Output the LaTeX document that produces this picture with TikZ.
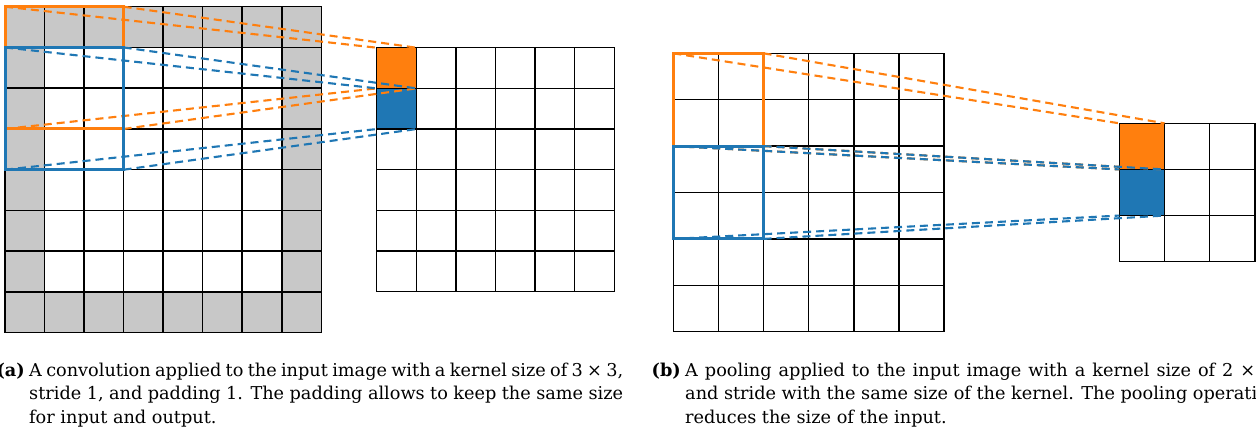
\documentclass[tikz,border=0pt]{standalone}
\usepackage{fontspec}
\setmainfont{DejaVu Serif}
\definecolor{torange}{HTML}{FF7F0E}
\definecolor{tblue}{HTML}{1F77B4}
\definecolor{padgray}{RGB}{200,200,200}
\begin{document}
\begin{tikzpicture}[x=1pt,y=-1pt,
  gridline/.style={black, line width=1.5pt, line cap=rect},
  kbox/.style={line width=3pt},
  link/.style={line width=2.1pt, dash pattern=on 8pt off 5pt},
  captext/.style={font=\fontsize{17.7}{21}\selectfont, inner sep=0pt, anchor=base west},
  caplabel/.style={font=\fontsize{17.7}{21}\selectfont\bfseries, inner sep=0pt, anchor=base east}]
\useasboundingbox (0,0) rectangle (1256,437);

% ---------- panel (a): padded input 8x8 ----------
\begin{scope}[shift={(5,6.7)}, x=39.54pt, y=-40.75pt]
  \fill[padgray] (0,0) rectangle (8,8);
  \fill[white] (1,1) rectangle (7,7);
  \foreach \i in {0,...,8} \draw[gridline] (\i,0) -- (\i,8);
  \foreach \j in {0,...,8} \draw[gridline] (0,\j) -- (8,\j);
  \coordinate (aOtl) at (0,0); \coordinate (aOtr) at (3,0);
  \coordinate (aObl) at (0,3); \coordinate (aObr) at (3,3);
  \coordinate (aBtl) at (0,1); \coordinate (aBtr) at (3,1);
  \coordinate (aBbl) at (0,4); \coordinate (aBbr) at (3,4);
\end{scope}
% ---------- panel (a): output 6x6 ----------
\begin{scope}[shift={(376.7,47.7)}, x=39.6pt, y=-40.67pt]
  \fill[torange] (0,0) rectangle (1,1);
  \fill[tblue] (0,1) rectangle (1,2);
  \foreach \i in {0,...,6} \draw[gridline] (\i,0) -- (\i,6);
  \foreach \j in {0,...,6} \draw[gridline] (0,\j) -- (6,\j);
  \coordinate (oaOtl) at (0,0); \coordinate (oaOtr) at (1,0);
  \coordinate (oaObl) at (0,1); \coordinate (oaObr) at (1,1);
  \coordinate (oaBtl) at (0,1); \coordinate (oaBtr) at (1,1);
  \coordinate (oaBbl) at (0,2); \coordinate (oaBbr) at (1,2);
\end{scope}
\draw[kbox, torange] (aOtl) rectangle (aObr);
\foreach \c in {tl,tr,bl,br} \draw[link, torange] (aO\c) -- (oaO\c);
\draw[kbox, tblue] (aBtl) rectangle (aBbr);
\foreach \c in {tl,tr,bl,br} \draw[link, tblue] (aB\c) -- (oaB\c);

% ---------- panel (b): input 6x6 ----------
\begin{scope}[shift={(673.3,53.3)}, x=45.12pt, y=-46.4pt]
  \foreach \i in {0,...,6} \draw[gridline] (\i,0) -- (\i,6);
  \foreach \j in {0,...,6} \draw[gridline] (0,\j) -- (6,\j);
  \coordinate (bOtl) at (0,0); \coordinate (bOtr) at (2,0);
  \coordinate (bObl) at (0,2); \coordinate (bObr) at (2,2);
  \coordinate (bBtl) at (0,2); \coordinate (bBtr) at (2,2);
  \coordinate (bBbl) at (0,4); \coordinate (bBbr) at (2,4);
\end{scope}
% ---------- panel (b): output 3x3 ----------
\begin{scope}[shift={(1119.3,123.3)}, x=45.2pt, y=-46.13pt]
  \fill[torange] (0,0) rectangle (1,1);
  \fill[tblue] (0,1) rectangle (1,2);
  \foreach \i in {0,...,3} \draw[gridline] (\i,0) -- (\i,3);
  \foreach \j in {0,...,3} \draw[gridline] (0,\j) -- (3,\j);
  \coordinate (obOtl) at (0,0); \coordinate (obOtr) at (1,0);
  \coordinate (obObl) at (0,1); \coordinate (obObr) at (1,1);
  \coordinate (obBtl) at (0,1); \coordinate (obBtr) at (1,1);
  \coordinate (obBbl) at (0,2); \coordinate (obBbr) at (1,2);
\end{scope}
\draw[kbox, torange] (bOtl) rectangle (bObr);
\foreach \c in {tl,tr,bl,br} \draw[link, torange] (bO\c) -- (obO\c);
\draw[kbox, tblue] (bBtl) rectangle (bBbr);
\foreach \c in {tl,tr,bl,br} \draw[link, tblue] (bB\c) -- (obB\c);

% ---------- captions ----------
\node[caplabel] (capAl) at (25,376.5) {(a)};
\node[captext] (capA1) at (29,376.5) {\makebox[594pt][s]{A convolution applied to the input image with a kernel size of 3 × 3,}};
\node[captext] (capA2) at (29,399.8) {\makebox[594pt][s]{stride 1, and padding 1. The padding allows to keep the same size}};
\node[captext] (capA3) at (29,423) {for input and output.};
\node[caplabel] (capBl) at (681,376.5) {(b)};
\node[captext] (capB1) at (685,376.5) {\makebox[594pt][s]{A pooling applied to the input image with a kernel size of 2 × 2,}};
\node[captext] (capB2) at (685,399.8) {\makebox[594pt][s]{and stride with the same size of the kernel. The pooling operation}};
\node[captext] (capB3) at (685,423) {reduces the size of the input.};
\end{tikzpicture}
\end{document}
